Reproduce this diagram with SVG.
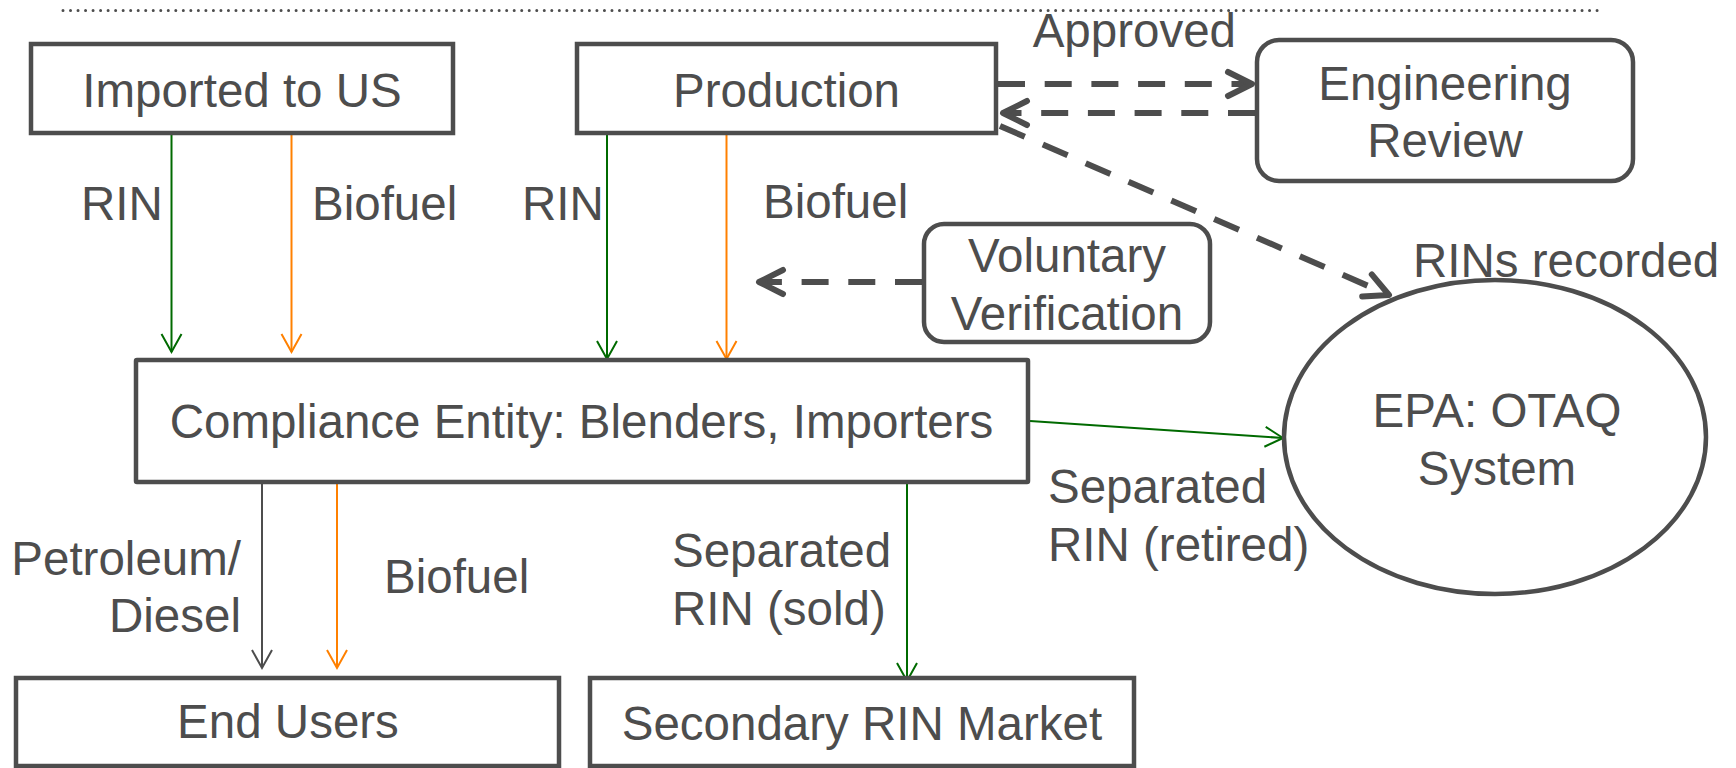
<svg xmlns="http://www.w3.org/2000/svg" width="1736" height="768" viewBox="0 0 1736 768">
<defs>
<style>
text{font-family:"Liberation Sans",Arial,sans-serif;font-size:47.5px;fill:#4d4d4d}
.m{text-anchor:middle}
.e{text-anchor:end}
.box{fill:#ffffff;stroke:#4d4d4d;stroke-width:4.5}
.g{stroke:#006a00;stroke-width:2;fill:none}
.o{stroke:#ff8000;stroke-width:2;fill:none}
.k{stroke:#4d4d4d;stroke-width:2;fill:none}
.d{stroke:#4d4d4d;stroke-width:6;fill:none;stroke-dasharray:27 19.7}
</style>
<marker id="ag" viewBox="-20 -12 22 24" refX="0" refY="0" markerWidth="22" markerHeight="24" markerUnits="userSpaceOnUse" orient="auto" overflow="visible"><path d="M-18,-10 L0,0 L-18,10" fill="none" stroke="#006a00" stroke-width="2"/></marker>
<marker id="ao" viewBox="-20 -12 22 24" refX="0" refY="0" markerWidth="22" markerHeight="24" markerUnits="userSpaceOnUse" orient="auto" overflow="visible"><path d="M-18,-10 L0,0 L-18,10" fill="none" stroke="#ff8000" stroke-width="2"/></marker>
<marker id="ak" viewBox="-20 -12 22 24" refX="0" refY="0" markerWidth="22" markerHeight="24" markerUnits="userSpaceOnUse" orient="auto" overflow="visible"><path d="M-18,-10 L0,0 L-18,10" fill="none" stroke="#4d4d4d" stroke-width="2"/></marker>
<marker id="ad" viewBox="-30 -16 34 32" refX="0" refY="0" markerWidth="34" markerHeight="32" markerUnits="userSpaceOnUse" orient="auto" overflow="visible"><path d="M-24,-12 L0,0 L-24,12" fill="none" stroke="#4d4d4d" stroke-width="6" stroke-linecap="round" stroke-linejoin="round"/></marker>
</defs>
<rect width="1736" height="768" fill="#ffffff"/>
<line x1="63" y1="10.5" x2="1604" y2="10.5" stroke="#4d4d4d" stroke-width="3" stroke-linecap="round" stroke-dasharray="0 7.52"/>

<g id="connectors">
<line class="g" x1="171.5" y1="130" x2="171.5" y2="352" marker-end="url(#ag)"/>
<line class="o" x1="291.5" y1="130" x2="291.5" y2="352" marker-end="url(#ao)"/>
<line class="g" x1="607" y1="130" x2="607" y2="359" marker-end="url(#ag)"/>
<line class="o" x1="726.5" y1="130" x2="726.5" y2="359" marker-end="url(#ao)"/>
<line class="k" x1="262" y1="473" x2="262" y2="668" marker-end="url(#ak)"/>
<line class="o" x1="337" y1="473" x2="337" y2="668" marker-end="url(#ao)"/>
<line class="g" x1="907" y1="473" x2="907" y2="681" marker-end="url(#ag)"/>
<line class="g" x1="1030" y1="421" x2="1283" y2="438" marker-end="url(#ag)"/>
<line class="d" x1="998" y1="84" x2="1252" y2="84" marker-end="url(#ad)"/>
<line class="d" x1="1255" y1="113" x2="1003" y2="113" marker-end="url(#ad)"/>
<line class="d" x1="1000" y1="126" x2="1389" y2="295" marker-end="url(#ad)"/>
<line class="d" x1="922" y1="282" x2="759" y2="282" marker-end="url(#ad)"/>
</g>

<g id="labels">
<text x="81" y="220">RIN</text>
<text x="312" y="220">Biofuel</text>
<text x="522" y="220">RIN</text>
<text x="763" y="218">Biofuel</text>
<text x="1236" y="47" class="e">Approved</text>
<text x="1413" y="277">RINs recorded</text>
<text x="1048" y="503">Separated</text>
<text x="1048" y="561">RIN (retired)</text>
<text x="241" y="575" class="e">Petroleum/</text>
<text x="241" y="632" class="e">Diesel</text>
<text x="384" y="593">Biofuel</text>
<text x="672" y="567">Separated</text>
<text x="672" y="625">RIN (sold)</text>
</g>

<g id="imported">
<rect class="box" x="31" y="44" width="422" height="89"/>
<text x="242" y="107" class="m">Imported to US</text>
</g>
<g id="production">
<rect class="box" x="577" y="44" width="419" height="89"/>
<text x="786.5" y="107" class="m">Production</text>
</g>
<g id="engineering">
<rect class="box" x="1257" y="40" width="376" height="141" rx="22"/>
<text x="1445" y="100" class="m">Engineering</text>
<text x="1445" y="157" class="m">Review</text>
</g>
<g id="voluntary">
<rect class="box" x="924" y="224" width="286" height="118" rx="20"/>
<text x="1067" y="272" class="m">Voluntary</text>
<text x="1067" y="330" class="m">Verification</text>
</g>
<g id="compliance">
<rect class="box" x="136" y="360" width="892" height="122" rx="1"/>
<text x="581.5" y="438" class="m">Compliance Entity: Blenders, Importers</text>
</g>
<g id="epa">
<ellipse class="box" cx="1495" cy="437" rx="211" ry="157"/>
<text x="1497" y="427" class="m">EPA: OTAQ</text>
<text x="1497" y="485" class="m">System</text>
</g>
<g id="endusers">
<rect class="box" x="16" y="678" width="543" height="88"/>
<text x="288" y="738" class="m">End Users</text>
</g>
<g id="secondary">
<rect class="box" x="590" y="678" width="544" height="88"/>
<text x="862" y="740" class="m">Secondary RIN Market</text>
</g>
</svg>
